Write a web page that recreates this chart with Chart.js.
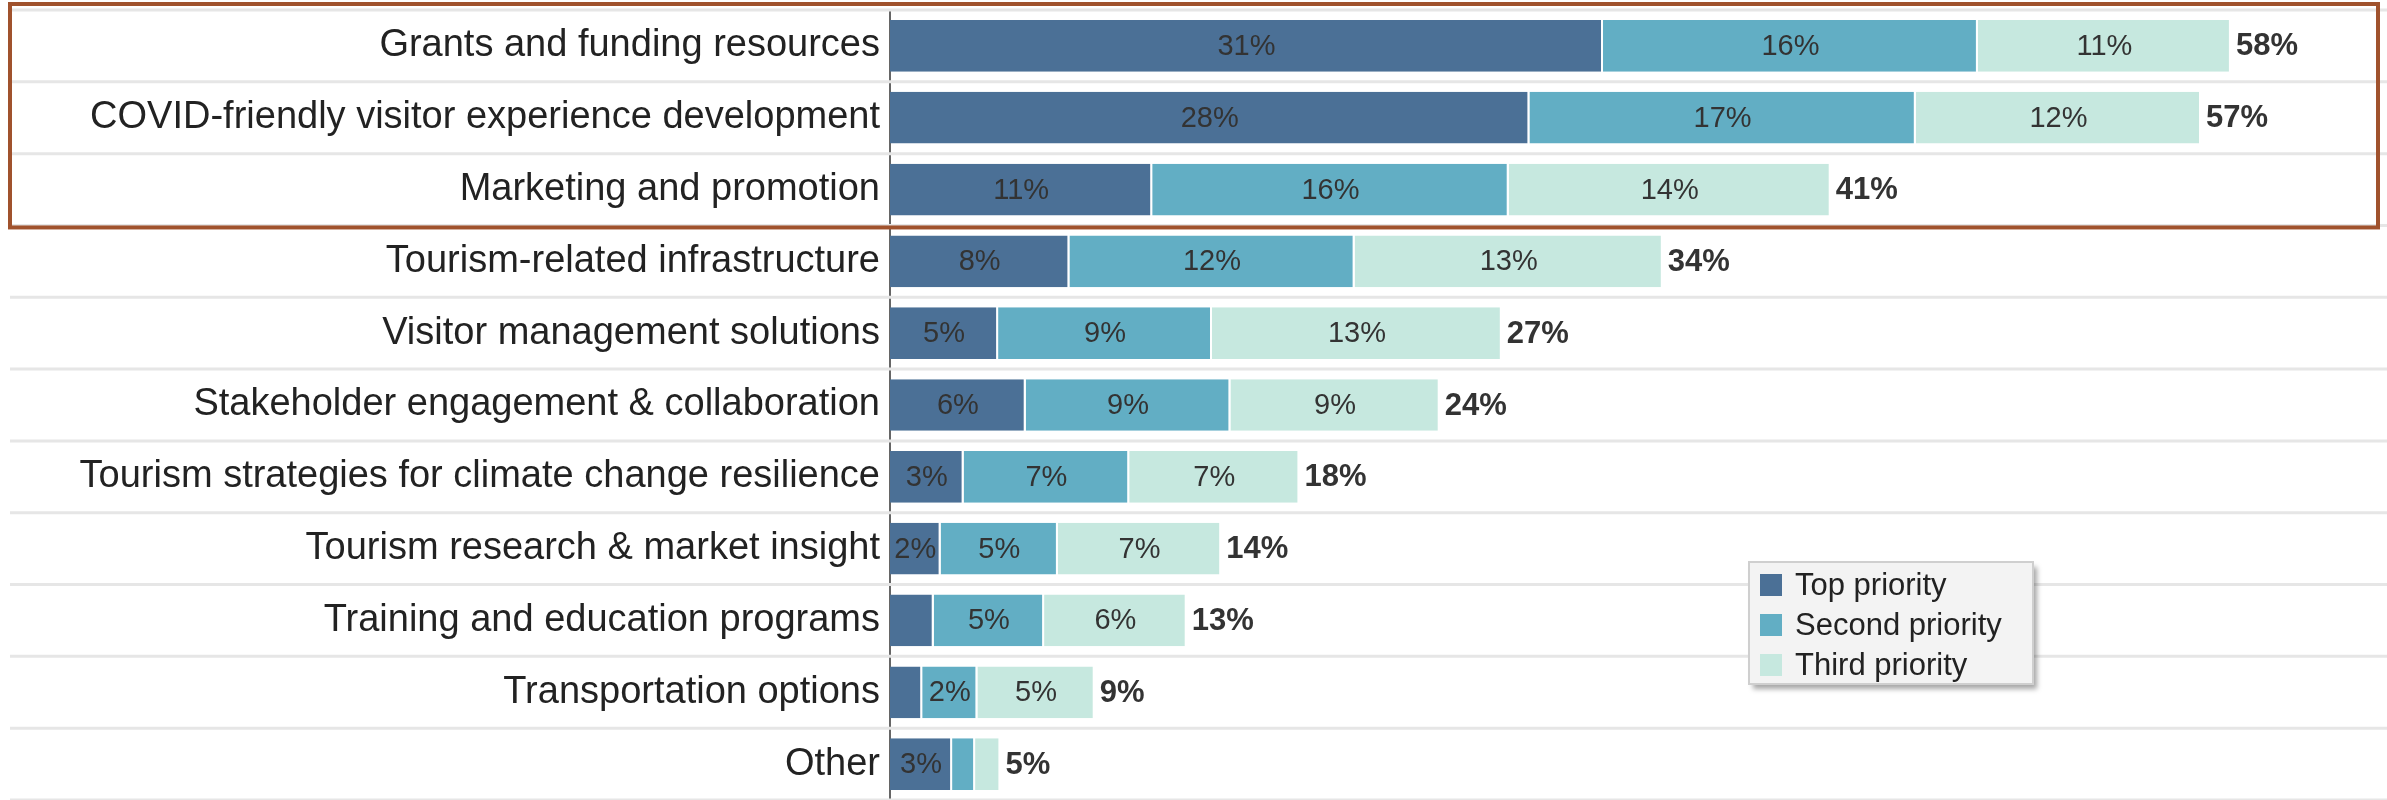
<!DOCTYPE html>
<html>
<head>
<meta charset="utf-8">
<script src="https://cdn.jsdelivr.net/npm/chart.js@4"></script>
<style>
	html, body { margin: 0; padding: 0; background: #fff; }
	#wrap { width: 2387px; height: 800px; position: relative; }
</style>
</head>
<body>
<div id="wrap"><canvas id="myChart"></canvas></div>
<script>
var categories = [
	'Grants and funding resources',
	'COVID-friendly visitor experience development',
	'Marketing and promotion',
	'Tourism-related infrastructure',
	'Visitor management solutions',
	'Stakeholder engagement & collaboration',
	'Tourism strategies for climate change resilience',
	'Tourism research & market insight',
	'Training and education programs',
	'Transportation options',
	'Other'
];
var seriesNames = ['Top priority', 'Second priority', 'Third priority'];
var topPriority    = [31, 27.8, 11.4, 7.8, 4.7, 5.9, 3.2, 2.2, 1.9, 1.4, 2.7];
var secondPriority = [16.3, 16.8, 15.5, 12.4, 9.3, 8.9, 7.2, 5.1, 4.8, 2.4, 1.0];
var thirdPriority  = [11, 12.4, 14.0, 13.4, 12.6, 9.1, 7.4, 7.1, 6.2, 5.1, 1.1];
var colors = ['#4b7096', '#62aec4', '#c6e8df'];
var highlightRows = 3;

var FONT = '"Liberation Sans", Arial, sans-serif';

// separators between rows, drawn across the whole width
var rowLines = {
	id: 'rowLines',
	beforeDatasetsDraw: function(chart) {
		var ctx = chart.ctx, y = chart.scales.y;
		var half = (y.getPixelForValue(1) - y.getPixelForValue(0)) / 2;
		ctx.save();
		ctx.strokeStyle = '#e6e6e6';
		ctx.lineWidth = 3;
		for (var i = 0; i <= categories.length; i++) {
			var py = y.getPixelForValue(i) - half;
			ctx.beginPath();
			ctx.moveTo(10, py);
			ctx.lineTo(chart.width, py);
			ctx.stroke();
		}
		ctx.restore();
	}
};

// percent labels inside segments and bold totals at the end
var barLabels = {
	id: 'barLabels',
	afterDatasetsDraw: function(chart) {
		var ctx = chart.ctx;
		ctx.save();
		ctx.textBaseline = 'middle';
		chart.data.datasets.forEach(function(ds, di) {
			var meta = chart.getDatasetMeta(di);
			meta.data.forEach(function(el, i) {
				var v = ds.data[i];
				if (v < 2) return;
				ctx.font = '29px ' + FONT;
				ctx.fillStyle = '#333';
				ctx.textAlign = 'center';
				ctx.fillText(Math.round(v) + '%', (el.x + el.base) / 2, el.y + 1);
			});
		});
		var last = chart.getDatasetMeta(chart.data.datasets.length - 1);
		last.data.forEach(function(el, i) {
			var total = topPriority[i] + secondPriority[i] + thirdPriority[i];
			ctx.font = 'bold 31px ' + FONT;
			ctx.fillStyle = '#333';
			ctx.textAlign = 'left';
			ctx.fillText(Math.round(total) + '%', el.x + 5, el.y + 1);
		});
		ctx.restore();
	}
};

// brown frame round the top rows and the legend box
var extras = {
	id: 'extras',
	afterDraw: function(chart) {
		var ctx = chart.ctx, y = chart.scales.y;
		var half = (y.getPixelForValue(1) - y.getPixelForValue(0)) / 2;
		var top = y.getPixelForValue(0) - half - 6;
		var bottom = y.getPixelForValue(highlightRows - 1) + half + 2;
		ctx.save();
		ctx.strokeStyle = '#a0522d';
		ctx.lineWidth = 4;
		ctx.strokeRect(10, top, 2368, bottom - top);

		var lx = 1749, ly = 562, lw = 284, lh = 122;
		ctx.shadowColor = 'rgba(0,0,0,0.35)';
		ctx.shadowOffsetX = 4;
		ctx.shadowOffsetY = 5;
		ctx.shadowBlur = 5;
		ctx.fillStyle = '#f3f3f3';
		ctx.fillRect(lx, ly, lw, lh);
		ctx.shadowColor = 'transparent';
		ctx.strokeStyle = '#cfcfcf';
		ctx.lineWidth = 2;
		ctx.strokeRect(lx, ly, lw, lh);
		ctx.font = '31px ' + FONT;
		ctx.textBaseline = 'middle';
		ctx.textAlign = 'left';
		seriesNames.forEach(function(name, i) {
			var cy = ly + 23 + i * 40;
			ctx.fillStyle = colors[i];
			ctx.fillRect(lx + 11, cy - 11, 22, 22);
			ctx.fillStyle = '#222';
			ctx.fillText(name, lx + 46, cy + 1);
		});
		ctx.restore();
	}
};

var ctx = document.getElementById('myChart').getContext('2d');
var myChart = new Chart(ctx, {
	type: 'bar',
	data: {
		labels: categories,
		datasets: [
			{ label: seriesNames[0], data: topPriority, backgroundColor: colors[0] },
			{ label: seriesNames[1], data: secondPriority, backgroundColor: colors[1] },
			{ label: seriesNames[2], data: thirdPriority, backgroundColor: colors[2] }
		].map(function(d) {
			d.borderColor = '#ffffff';
			d.borderWidth = { left: 0, right: 2, top: 0, bottom: 0 };
			d.borderSkipped = false;
			d.categoryPercentage = 1;
			d.barPercentage = 0.72;
			return d;
		})
	},
	options: {
		indexAxis: 'y',
		responsive: true,
		maintainAspectRatio: false,
		animation: false,
		layout: { padding: { top: 10, right: 25, bottom: 0, left: 0 } },
		plugins: {
			legend: { display: false },
			tooltip: { enabled: false }
		},
		scales: {
			x: {
				stacked: true,
				min: 0,
				max: 64,
				display: false
			},
			y: {
				stacked: true,
				grid: { display: false, drawTicks: false },
				border: { display: true, color: '#666', width: 2 },
				ticks: {
					autoSkip: false,
					padding: 10,
					color: '#222',
					font: { family: FONT, size: 38 }
				},
				afterFit: function(scale) {
					scale.width = 890;
					scale.paddingTop = 0;
					scale.paddingBottom = 0;
				}
			}
		}
	},
	plugins: [rowLines, barLabels, extras]
});
</script>
</body>
</html>
